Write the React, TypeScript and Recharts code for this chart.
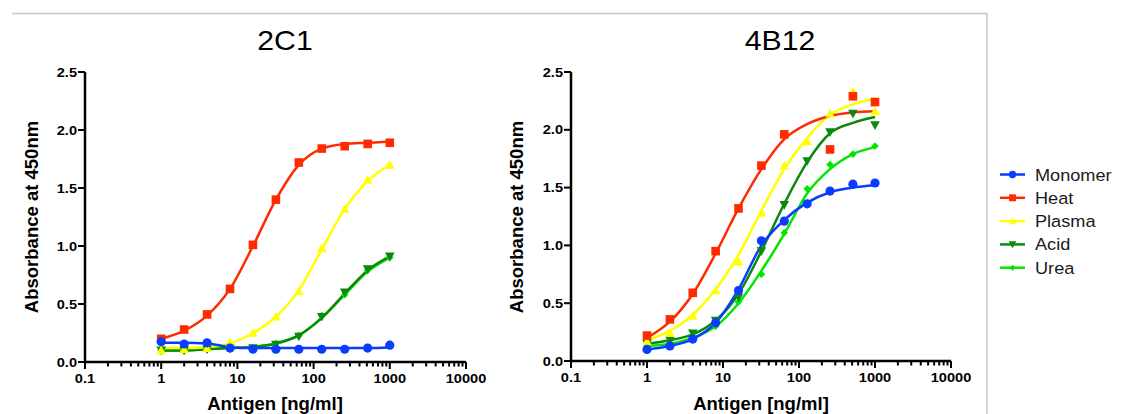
import React from 'react';
import { ComposedChart, Line, Scatter, XAxis, YAxis } from 'recharts';

// ---------- data ----------
const concentrations = [1, 2, 4, 8, 16, 32, 64, 128, 256, 512, 1000];
const seriesNames = ['Monomer', 'Heat', 'Plasma', 'Acid', 'Urea'];
const seriesColors = ['#0a3cff', '#ff2a00', '#ffff00', '#0a8a0a', '#00e600'];
const seriesMarkers = ['circle', 'square', 'triangle', 'triangleDown', 'diamond'];

const xMajorTicks = [0.1, 1, 10, 100, 1000, 10000];
const xMajorLabels = ['0.1', '1', '10', '100', '1000', '10000'];
const xMinorMultipliers = [2, 3, 4, 5, 6, 7, 8, 9];
const yTicks = [0, 0.5, 1, 1.5, 2, 2.5];
const yTickLabels = ['0.0', '0.5', '1.0', '1.5', '2.0', '2.5'];

// panel 2C1 — measured points
const c2Monomer = [0.175, 0.155, 0.165, 0.12, 0.11, 0.11, 0.11, 0.11, 0.11, 0.12, 0.145];
const c2Heat = [0.2, 0.28, 0.41, 0.63, 1.01, 1.4, 1.72, 1.84, 1.86, 1.88, 1.89];
const c2Plasma = [0.1, 0.11, 0.12, 0.17, 0.25, 0.39, 0.61, 0.98, 1.32, 1.57, 1.7];
const c2Acid = [0.1, 0.1, 0.11, 0.12, 0.12, 0.15, 0.22, 0.39, 0.6, 0.8, 0.91];
const c2Urea = [0.1, 0.1, 0.11, 0.12, 0.12, 0.16, 0.23, 0.4, 0.58, 0.79, 0.9];
// panel 2C1 — fitted curves
const c2MonomerFit = [0.165, 0.165, 0.16, 0.128, 0.12, 0.12, 0.12, 0.12, 0.12, 0.12, 0.125];
const c2HeatFit = [0.2, 0.27, 0.4, 0.63, 1.0, 1.4, 1.7, 1.84, 1.88, 1.89, 1.9];
const c2PlasmaFit = [0.12, 0.12, 0.13, 0.16, 0.25, 0.39, 0.62, 0.97, 1.32, 1.56, 1.7];
const c2AcidFit = [0.1, 0.1, 0.11, 0.12, 0.13, 0.16, 0.23, 0.38, 0.59, 0.79, 0.91];
const c2UreaFit = [0.1, 0.1, 0.11, 0.12, 0.13, 0.16, 0.23, 0.38, 0.58, 0.78, 0.9];

// panel 4B12 — measured points (null = no visible point)
const b4Monomer = [0.1, 0.13, 0.19, 0.33, 0.61, 1.04, 1.21, 1.36, 1.47, 1.53, 1.54];
const b4Heat = [0.22, 0.36, 0.59, 0.95, 1.32, 1.69, 1.96, null, 1.83, 2.29, 2.24];
const b4Plasma = [0.17, 0.24, 0.39, 0.61, 0.86, 1.28, 1.69, 1.9, 2.14, 2.33, 2.16];
const b4Acid = [0.15, 0.18, 0.24, 0.35, 0.55, 0.95, 1.35, 1.73, 1.98, 2.14, 2.04];
const b4Urea = [0.13, 0.16, 0.2, 0.3, 0.51, 0.75, 1.11, 1.49, 1.7, 1.79, 1.86];
// panel 4B12 — fitted curves
const b4MonomerFit = [0.1, 0.13, 0.19, 0.33, 0.62, 1.0, 1.22, 1.37, 1.46, 1.5, 1.52];
const b4HeatFit = [0.2, 0.34, 0.58, 0.93, 1.32, 1.66, 1.92, 2.05, 2.12, 2.15, 2.16];
const b4PlasmaFit = [0.18, 0.26, 0.4, 0.62, 0.92, 1.3, 1.66, 1.93, 2.13, 2.22, 2.27];
const b4AcidFit = [0.15, 0.18, 0.23, 0.35, 0.58, 0.95, 1.36, 1.72, 1.97, 2.06, 2.11];
const b4UreaFit = [0.13, 0.15, 0.2, 0.3, 0.5, 0.78, 1.1, 1.45, 1.66, 1.79, 1.85];

// ---------- helpers ----------
const FONT = '"Liberation Sans", Arial, Helvetica, sans-serif';
const SX = 1.08;

const toPoints = (ys: (number | null)[]) =>
  concentrations
    .map((x, i) => ({ x, y: ys[i] }))
    .filter((p) => p.y !== null && p.y !== undefined);

const xAllTicks: number[] = [];
xMajorTicks.forEach((d, i) => {
  xAllTicks.push(d);
  if (i < xMajorTicks.length - 1) xMinorMultipliers.forEach((m) => xAllTicks.push(d * m));
});

function MarkerShape({ cx, cy, kind, color, s = 1 }: any) {
  if (cx == null || cy == null || isNaN(cx) || isNaN(cy)) return null;
  switch (kind) {
    case 'circle':
      return <circle cx={cx} cy={cy} r={4.6 * s} fill={color} />;
    case 'square':
      return <rect x={cx - 4.3 * s} y={cy - 4.3 * s} width={8.6 * s} height={8.6 * s} fill={color} />;
    case 'triangle': {
      const h = 4.8 * s;
      return <polygon points={`${cx},${cy - h} ${cx + h},${cy + h * 0.8} ${cx - h},${cy + h * 0.8}`} fill={color} />;
    }
    case 'triangleDown': {
      const h = 4.8 * s;
      return <polygon points={`${cx},${cy + h} ${cx + h},${cy - h * 0.8} ${cx - h},${cy - h * 0.8}`} fill={color} />;
    }
    default: {
      const h = 3.8 * s;
      return <polygon points={`${cx},${cy - h} ${cx + h},${cy} ${cx},${cy + h} ${cx - h},${cy}`} fill={color} />;
    }
  }
}

function XTick(props: any) {
  const { x, y, payload } = props;
  const v = payload.value;
  const idx = xMajorTicks.findIndex((m) => Math.abs(m - v) < 1e-9);
  const major = idx >= 0;
  return (
    <g>
      <line x1={x} x2={x} y1={y} y2={y + (major ? 7 : 4.5)} stroke="#000" strokeWidth={2} />
      {major && (
        <text
          x={0}
          y={0}
          transform={`translate(${x},${y + 21}) scale(${SX},1)`}
          textAnchor="middle"
          fontSize={13.5}
          fontWeight="bold"
          fontFamily={FONT}
          fill="#000"
        >
          {xMajorLabels[idx]}
        </text>
      )}
    </g>
  );
}

function YTick(props: any) {
  const { x, y, payload } = props;
  const idx = yTicks.findIndex((t) => Math.abs(t - payload.value) < 1e-9);
  return (
    <g>
      <line x1={x - 7} x2={x} y1={y} y2={y} stroke="#000" strokeWidth={2} />
      <text
        x={0}
        y={0}
        transform={`translate(${x - 8},${y + 4.5}) scale(${SX},1)`}
        textAnchor="end"
        fontSize={13.5}
        fontWeight="bold"
        fontFamily={FONT}
        fill="#000"
      >
        {idx >= 0 ? yTickLabels[idx] : ''}
      </text>
    </g>
  );
}

type Panel = { obs: (number | null)[][]; fit: number[][] };

const panel2C1: Panel = {
  obs: [c2Monomer, c2Heat, c2Plasma, c2Acid, c2Urea],
  fit: [c2MonomerFit, c2HeatFit, c2PlasmaFit, c2AcidFit, c2UreaFit],
};
const panel4B12: Panel = {
  obs: [b4Monomer, b4Heat, b4Plasma, b4Acid, b4Urea],
  fit: [b4MonomerFit, b4HeatFit, b4PlasmaFit, b4AcidFit, b4UreaFit],
};

const drawOrder = [4, 3, 2, 1, 0];

function PanelChart({ panel, margin }: { panel: Panel; margin: any }) {
  return (
    <ComposedChart width={490} height={414} margin={margin}>
      <XAxis
        dataKey="x"
        type="number"
        scale="log"
        domain={[0.1, 10000]}
        allowDataOverflow
        ticks={xAllTicks}
        interval={0}
        tick={<XTick />}
        tickLine={false}
        tickSize={0}
        tickMargin={0}
        height={30}
        axisLine={{ stroke: '#000', strokeWidth: 2.5 }}
      />
      <YAxis
        dataKey="y"
        type="number"
        domain={[0, 2.5]}
        allowDataOverflow
        ticks={yTicks}
        interval={0}
        tick={<YTick />}
        tickLine={false}
        tickSize={0}
        tickMargin={0}
        width={60}
        axisLine={{ stroke: '#000', strokeWidth: 2.5 }}
      />
      {drawOrder.map((i) => (
        <Line
          key={'fit' + i}
          data={toPoints(panel.fit[i])}
          dataKey="y"
          type="monotone"
          stroke={seriesColors[i]}
          strokeWidth={2.5}
          dot={false}
          activeDot={false}
          isAnimationActive={false}
        />
      ))}
      {drawOrder.map((i) => (
        <Scatter
          key={'obs' + i}
          data={toPoints(panel.obs[i])}
          dataKey="y"
          fill={seriesColors[i]}
          isAnimationActive={false}
          shape={(p: any) => <MarkerShape cx={p.cx} cy={p.cy} kind={seriesMarkers[i]} color={seriesColors[i]} />}
        />
      ))}
    </ComposedChart>
  );
}

function Overlay() {
  const yLabel = 'Absorbance at 450nm';
  const xLabel = 'Antigen [ng/ml]';
  return (
    <svg width={1129} height={414} style={{ position: 'absolute', left: 0, top: 0, pointerEvents: 'none' }}>
      <line x1={12} x2={987} y1={13.5} y2={13.5} stroke="#c4c4c4" strokeWidth={1.5} />
      <line x1={987} x2={987} y1={13} y2={414} stroke="#c4c4c4" strokeWidth={1.5} />
      {[
        { t: '2C1', cx: 285 },
        { t: '4B12', cx: 780 },
      ].map((o) => (
        <text
          key={o.t}
          transform={`translate(${o.cx},50) scale(1.06,1)`}
          textAnchor="middle"
          fontSize={28.5}
          fontFamily={FONT}
          fill="#000"
        >
          {o.t}
        </text>
      ))}
      {[37.5, 523].map((bx, k) => (
        <text
          key={'yl' + k}
          transform={`translate(${bx},217) rotate(-90)`}
          textAnchor="middle"
          fontSize={18.5}
          fontWeight="bold"
          fontFamily={FONT}
          fill="#000"
        >
          {yLabel}
        </text>
      ))}
      {[275, 761].map((cx, k) => (
        <text
          key={'xl' + k}
          transform={`translate(${cx},410)`}
          textAnchor="middle"
          fontSize={18.5}
          fontWeight="bold"
          fontFamily={FONT}
          fill="#000"
        >
          {xLabel}
        </text>
      ))}
      {seriesNames.map((name, i) => {
        const y = 174.5 + i * 23.3;
        return (
          <g key={name}>
            <line x1={1000} x2={1025} y1={y} y2={y} stroke={seriesColors[i]} strokeWidth={2.5} />
            <MarkerShape cx={1012.5} cy={y} kind={seriesMarkers[i]} color={seriesColors[i]} s={0.8} />
            <text
              transform={`translate(1035,${y + 6}) scale(1.1,1)`}
              fontSize={16.5}
              fontFamily={FONT}
              fill="#1a1a1a"
            >
              {name}
            </text>
          </g>
        );
      })}
    </svg>
  );
}

export default function App() {
  return (
    <div style={{ position: 'absolute', left: 0, top: 0, width: 1129, height: 414, background: '#fff', overflow: 'hidden' }}>
      <div style={{ position: 'absolute', left: 0, top: 0 }}>
        <PanelChart panel={panel2C1} margin={{ top: 72, right: 24, bottom: 22, left: 25 }} />
      </div>
      <div style={{ position: 'absolute', left: 490, top: 0 }}>
        <PanelChart panel={panel4B12} margin={{ top: 72, right: 29, bottom: 23, left: 21 }} />
      </div>
      <Overlay />
    </div>
  );
}
